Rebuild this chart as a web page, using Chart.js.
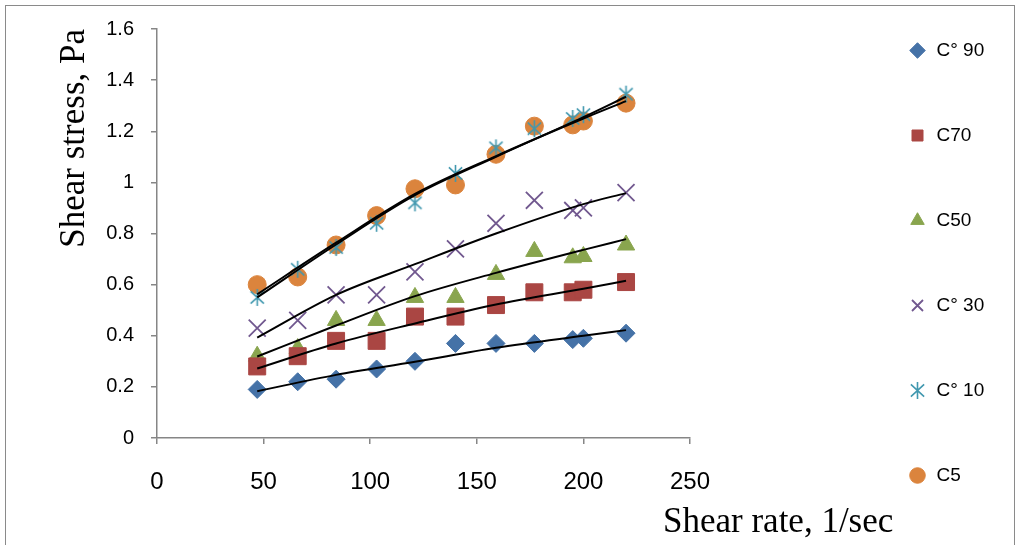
<!DOCTYPE html>
<html>
<head>
<meta charset="utf-8">
<script src="https://cdn.jsdelivr.net/npm/chart.js@4.4.1/dist/chart.umd.min.js"></script>
<style>
html, body { margin: 0; padding: 0; background: #ffffff; }
#wrap { position: relative; width: 1019px; height: 545px; overflow: hidden; }
#frame { position: absolute; left: 5px; top: 5px; width: 1010px; height: 600px; border: 1.5px solid #8a8a8a; box-sizing: border-box; pointer-events: none; }
</style>
</head>
<body>
<div id="wrap">
  <canvas id="c" width="1019" height="545"></canvas>
  <div id="frame"></div>
</div>
<script>
// ---------- data ----------
const shearRate = [47, 66, 84, 103, 121, 140, 159, 177, 195, 200, 220];
const c90 = [0.19, 0.22, 0.23, 0.27, 0.30, 0.37, 0.37, 0.37, 0.385, 0.39, 0.41];
const c70 = [0.28, 0.32, 0.38, 0.38, 0.475, 0.475, 0.52, 0.57, 0.57, 0.58, 0.61];
const c50 = [0.32, 0.35, 0.46, 0.46, 0.55, 0.55, 0.64, 0.73, 0.705, 0.71, 0.755];
const c30 = [0.43, 0.46, 0.56, 0.56, 0.65, 0.74, 0.84, 0.93, 0.89, 0.90, 0.96];
const c10 = [0.55, 0.66, 0.745, 0.84, 0.92, 1.035, 1.135, 1.21, 1.25, 1.265, 1.345];
const c5  = [0.60, 0.63, 0.755, 0.87, 0.975, 0.99, 1.11, 1.22, 1.225, 1.24, 1.31];

// trend lines (at these shear rates)
const trendRate = [47, 84, 121, 159, 200, 220];
const trend90 = [0.183, 0.247, 0.298, 0.353, 0.400, 0.422];
const trend70 = [0.272, 0.370, 0.448, 0.522, 0.584, 0.615];
const trend50 = [0.319, 0.440, 0.555, 0.646, 0.736, 0.778];
const trend30 = [0.393, 0.560, 0.680, 0.800, 0.915, 0.958];
const trend10 = [0.550, 0.757, 0.950, 1.100, 1.255, 1.335];
const trend5  = [0.562, 0.764, 0.955, 1.103, 1.250, 1.318];

const seriesLabels = ['C\u00B0 90', 'C70', 'C50', 'C\u00B0 30', 'C\u00B0 10', 'C5'];
const xAxisTitle = 'Shear rate, 1/sec';
const yAxisTitle = 'Shear stress, Pa';
const xMin = 0, xMax = 250, xStep = 50;
const yMin = 0, yMax = 1.6, yStep = 0.2;

// ---------- styling ----------
const colors = ['#4572A7', '#AA4643', '#89A54E', '#71588F', '#4198AF', '#DB843D'];

function makeAsterisk(color, size, lw) {
  const cv = document.createElement('canvas');
  cv.width = size; cv.height = size;
  const g = cv.getContext('2d');
  g.strokeStyle = color; g.lineWidth = lw; g.lineCap = 'butt';
  const h = size / 2, r = h - 1;
  g.beginPath();
  g.moveTo(h, h - r); g.lineTo(h, h + r);
  g.moveTo(h - r * 0.78, h - r * 0.72); g.lineTo(h + r * 0.78, h + r * 0.72);
  g.moveTo(h + r * 0.78, h - r * 0.72); g.lineTo(h - r * 0.78, h + r * 0.72);
  g.stroke();
  return cv;
}
const asterisk = makeAsterisk(colors[4], 19, 1.6);

function pts(xs, ys) { return xs.map((x, i) => ({ x: x, y: ys[i] })); }

function markerSet(label, values, color, style, radius, bw) {
  return {
    label: label,
    data: pts(shearRate, values),
    showLine: false,
    pointStyle: style,
    pointRadius: radius,
    pointHoverRadius: radius,
    pointBackgroundColor: color,
    pointBorderColor: color,
    pointBorderWidth: bw,
    backgroundColor: color,
    borderColor: color,
    borderWidth: bw,
    xAxisID: 'x', yAxisID: 'y',
    order: 1
  };
}
function trendSet(values) {
  return {
    label: 'trend',
    isTrend: true,
    data: pts(trendRate, values),
    showLine: true,
    borderColor: '#000000',
    borderWidth: 2,
    pointRadius: 0,
    pointHoverRadius: 0,
    cubicInterpolationMode: 'monotone',
    fill: false,
    xAxisID: 'x', yAxisID: 'y',
    order: 0
  };
}

const datasets = [
  markerSet(seriesLabels[0], c90, colors[0], 'rectRot', 9, 1),
  markerSet(seriesLabels[1], c70, colors[1], 'rect', 12, 1),
  markerSet(seriesLabels[2], c50, colors[2], 'triangle', 10, 1),
  markerSet(seriesLabels[3], c30, colors[3], 'crossRot', 12, 1.8),
  markerSet(seriesLabels[4], c10, colors[4], asterisk, 9, 1.6),
  markerSet(seriesLabels[5], c5,  colors[5], 'circle', 9, 1),
  trendSet(trend90), trendSet(trend70), trendSet(trend50),
  trendSet(trend30), trendSet(trend10), trendSet(trend5)
];

const axisGray = '#868686';

const xTitlePlugin = {
  id: 'xTitleRight',
  afterDraw(chart) {
    const ctx = chart.ctx, a = chart.chartArea;
    ctx.save();
    ctx.font = '35px "Liberation Serif", "Times New Roman", serif';
    ctx.fillStyle = '#000000';
    ctx.textAlign = 'left';
    ctx.textBaseline = 'alphabetic';
    ctx.fillText(xAxisTitle, a.right - 27, chart.height - 13);
    ctx.restore();
  }
};

new Chart(document.getElementById('c'), {
  type: 'scatter',
  data: { datasets: datasets },
  plugins: [xTitlePlugin],
  options: {
    responsive: false,
    animation: false,
    devicePixelRatio: 1,
    events: [],
    layout: { padding: { left: 50, right: 34, top: 0, bottom: -8 } },
    plugins: {
      tooltip: { enabled: false },
      title: { display: false },
      legend: {
        display: true,
        position: 'right',
        align: 'start',
        maxWidth: 118,
        labels: {
          usePointStyle: true,
          boxWidth: 19,
          boxHeight: 11,
          padding: 41,
          color: '#000000',
          font: { family: '"Liberation Sans", Arial, sans-serif', size: 19, lineHeight: '44px' },
          generateLabels(chart) {
            const base = Chart.defaults.plugins.legend.labels.generateLabels(chart);
            return base
              .filter(it => !chart.data.datasets[it.datasetIndex].isTrend)
              .map(it => Object.assign({}, it, { text: [it.text] }));
          }
        }
      }
    },
    scales: {
      x: {
        type: 'linear',
        position: 'bottom',
        min: xMin, max: xMax,
        afterFit(s) { s.height = 115; },
        ticks: {
          stepSize: xStep,
          autoSkip: false,
          maxRotation: 0,
          padding: 24,
          color: '#000000',
          font: { family: '"Liberation Sans Narrow", "Liberation Sans", Arial, sans-serif', size: 24 }
        },
        grid: { display: true, drawOnChartArea: false, drawTicks: true, tickLength: 6, color: axisGray, lineWidth: 1.5 },
        border: { display: true, color: axisGray, width: 1.5 },
        title: { display: false }
      },
      y: {
        type: 'linear',
        position: 'left',
        min: yMin, max: yMax,
        afterFit(s) { s.width = 107; },
        ticks: {
          stepSize: yStep,
          padding: 17,
          color: '#000000',
          font: { family: '"Liberation Sans", Arial, sans-serif', size: 20 },
          callback: (v) => String(Number(v.toFixed(2)))
        },
        grid: { display: true, drawOnChartArea: false, drawTicks: true, tickLength: 6, color: axisGray, lineWidth: 1.5 },
        border: { display: true, color: axisGray, width: 1.5 },
        title: {
          display: true,
          text: yAxisTitle,
          align: 'end',
          color: '#000000',
          padding: { top: 4, bottom: 0 },
          font: { family: '"Liberation Serif", "Times New Roman", serif', size: 35 }
        }
      },
      xTopSpace: {
        type: 'linear',
        axis: 'x',
        position: 'top',
        display: true,
        afterFit(s) { s.height = 27; },
        ticks: { display: false },
        grid: { display: false },
        border: { display: false }
      },
      yRightSpace: {
        type: 'linear',
        axis: 'y',
        position: 'right',
        display: true,
        afterFit(s) { s.width = 177; },
        ticks: { display: false },
        grid: { display: false },
        border: { display: false }
      }
    }
  }
});
</script>
</body>
</html>
